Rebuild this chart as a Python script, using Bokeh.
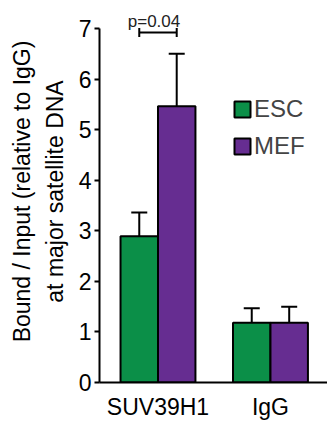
from bokeh.plotting import figure
from bokeh.models import ColumnDataSource, Range1d, FixedTicker, Whisker, Legend, LegendItem, Label
from bokeh.embed import file_html
from bokeh.resources import INLINE

categories = ["SUV39H1", "IgG"]
esc_values = [2.89, 1.18]
esc_upper = [3.36, 1.47]
esc_lower = [2.42, 0.98]
mef_values = [5.46, 1.18]
mef_upper = [6.50, 1.50]
mef_lower = [4.48, 0.84]
y_ticks = [0, 1, 2, 3, 4, 5, 6, 7]
p_text = "p=0.04"
p_level = 6.92

FONT = "Liberation Sans"
GREEN = "#0b8f48"
PURPLE = "#662d91"
bw = 0.333
off = bw / 2

p = figure(width=327, height=422, output_backend="svg", toolbar_location=None,
           x_range=Range1d(-0.52, 1.507), y_range=Range1d(0, 7.552),
           min_border_left=99, min_border_right=0, min_border_top=0, min_border_bottom=39)
p.outline_line_color = None
p.grid.visible = False

xs = list(range(len(categories)))
esc = ColumnDataSource(dict(x=[x - off for x in xs], top=esc_values, up=esc_upper, lo=esc_lower))
mef = ColumnDataSource(dict(x=[x + off for x in xs], top=mef_values, up=mef_upper, lo=mef_lower))

r1 = p.vbar(x="x", top="top", width=bw, source=esc, fill_color=GREEN, line_color="black", line_width=2)
r2 = p.vbar(x="x", top="top", width=bw, source=mef, fill_color=PURPLE, line_color="black", line_width=2)

for src in (esc, mef):
    w = Whisker(base="x", upper="up", lower="lo", source=src, line_color="black", line_width=2)
    w.upper_head.size = 16
    w.lower_head.size = 16
    w.upper_head.line_width = 2
    w.lower_head.line_width = 2
    p.add_layout(w)

# significance bracket
br = ColumnDataSource(dict(base=[p_level], lo=[xs[0] - off], up=[xs[0] + off]))
wb = Whisker(base="base", lower="lo", upper="up", dimension="width", source=br, line_color="black", line_width=2)
wb.upper_head.size = 9
wb.lower_head.size = 9
wb.upper_head.line_width = 2
wb.lower_head.line_width = 2
p.add_layout(wb)
p.add_layout(Label(x=xs[0], y=p_level, text=p_text, text_align="center", text_baseline="alphabetic",
                   x_offset=-4, y_offset=11, text_font=FONT, text_font_size="17px", text_color="#222222"))

legend = Legend(items=[LegendItem(label="ESC", renderers=[r1]), LegendItem(label="MEF", renderers=[r2])],
                location=(133, 222), orientation="vertical", glyph_width=20, glyph_height=20,
                label_text_font=FONT, label_text_font_size="24px", label_standoff=2,
                spacing=9, padding=0, margin=0, border_line_color=None, background_fill_alpha=0,
                label_height=22)
p.add_layout(legend)

p.yaxis.ticker = FixedTicker(ticks=y_ticks)
p.yaxis.bounds = (y_ticks[0], y_ticks[-1])
p.xaxis.ticker = FixedTicker(ticks=xs)
p.xaxis.major_label_overrides = {i: c for i, c in enumerate(categories)}
for ax in (p.xaxis, p.yaxis):
    ax.axis_line_width = 2
    ax.axis_line_color = "black"
    ax.major_tick_line_width = 2
    ax.minor_tick_line_color = None
    ax.major_tick_in = 0
    ax.major_label_text_font = FONT
    ax.major_label_text_color = "black"
p.yaxis.major_tick_out = 5
p.yaxis.major_label_standoff = 3
p.yaxis.major_label_text_font_size = "23px"
p.xaxis.major_tick_line_color = None
p.xaxis.major_label_text_font_size = "23px"
p.xaxis.major_label_standoff = 5
p.yaxis.axis_label = "Bound / Input (relative to IgG)\nat major satellite DNA"
p.yaxis.axis_label_text_font = FONT
p.yaxis.axis_label_text_font_size = "23px"
p.yaxis.axis_label_text_font_style = "normal"
p.yaxis.axis_label_text_color = "black"
p.yaxis.axis_label_text_line_height = 1.25
p.yaxis.axis_label_standoff = 8

open("out.html", "w").write(file_html(p, INLINE))
